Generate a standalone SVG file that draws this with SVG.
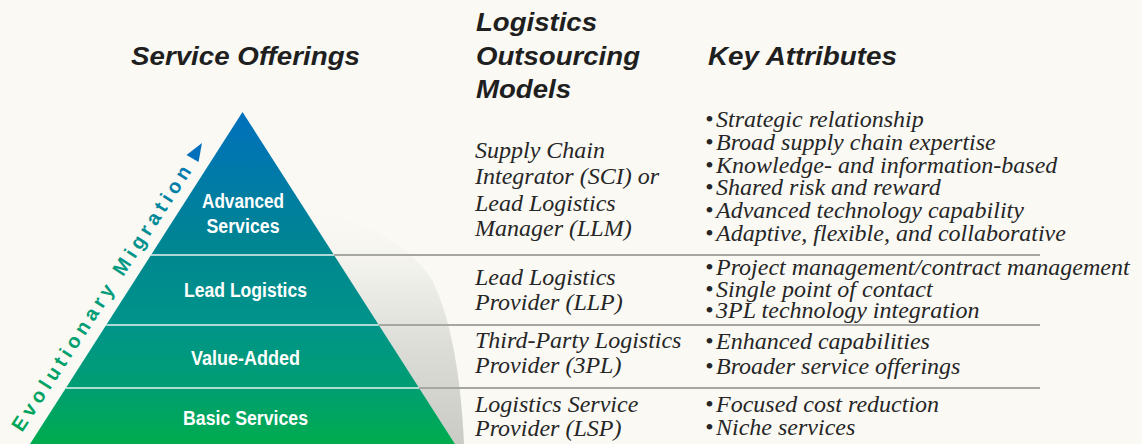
<svg xmlns="http://www.w3.org/2000/svg" width="1142" height="444" viewBox="0 0 1142 444">
<defs>
<linearGradient id="pyr" gradientUnits="userSpaceOnUse" x1="0" y1="112" x2="0" y2="444">
<stop offset="0" stop-color="#0070BC"/>
<stop offset="0.43" stop-color="#00878F"/>
<stop offset="0.64" stop-color="#00948A"/>
<stop offset="0.83" stop-color="#009E72"/>
<stop offset="1" stop-color="#00AC4E"/>
</linearGradient>
<linearGradient id="evo" gradientUnits="userSpaceOnUse" x1="0" y1="0" x2="312" y2="0">
<stop offset="0" stop-color="#00A55A"/>
<stop offset="0.6" stop-color="#009A80"/>
<stop offset="1" stop-color="#0079B0"/>
</linearGradient>
<linearGradient id="shadow" gradientUnits="userSpaceOnUse" x1="0" y1="200" x2="0" y2="444">
<stop offset="0" stop-color="#FAF9F4" stop-opacity="0"/>
<stop offset="0.35" stop-color="#EDEDE8"/>
<stop offset="0.6" stop-color="#DDDDD8"/>
<stop offset="1" stop-color="#CBCBC6"/>
</linearGradient>
<style>
.hdr{font-family:"Liberation Sans",Arial,sans-serif;font-weight:bold;font-style:italic;font-size:26px;fill:#1F1F1F}
.band{font-family:"Liberation Sans",Arial,sans-serif;font-weight:bold;font-size:20px;fill:#FFFFFF;text-anchor:middle}
.ser{font-family:"Liberation Serif","Times New Roman",serif;font-style:italic;font-size:24px;fill:#262626}
.sep{stroke:#A6A6A2;stroke-width:2;fill:none}
.wsep{stroke:#E6F2EE;stroke-width:1.5;fill:none}
</style>
</defs>
<rect x="0" y="0" width="1142" height="444" fill="#FAF9F4"/>

<!-- shadow -->
<path d="M300,205 C370,225 410,245 432,280 C452,320 461,380 464,444 L455,444 Z" fill="url(#shadow)"/>

<!-- headers -->
<g id="headers">
<text class="hdr" x="131" y="65" textLength="229" lengthAdjust="spacingAndGlyphs">Service Offerings</text>
<text class="hdr" x="476" y="31" textLength="121" lengthAdjust="spacingAndGlyphs">Logistics</text>
<text class="hdr" x="476" y="65" textLength="164" lengthAdjust="spacingAndGlyphs">Outsourcing</text>
<text class="hdr" x="476" y="98" textLength="95" lengthAdjust="spacingAndGlyphs">Models</text>
<text class="hdr" x="708" y="65" textLength="189" lengthAdjust="spacingAndGlyphs">Key Attributes</text>
</g>

<!-- pyramid bands -->
<g id="band-advanced">
<polygon points="242.5,112 334,255 151,255" fill="url(#pyr)"/>
<text class="band" x="243" y="208" textLength="82" lengthAdjust="spacingAndGlyphs">Advanced</text>
<text class="band" x="243" y="233" textLength="73" lengthAdjust="spacingAndGlyphs">Services</text>
</g>
<g id="band-lead">
<polygon points="151,255 334,255 378.8,325 106.2,325" fill="url(#pyr)"/>
<text class="band" x="245.5" y="297" textLength="123" lengthAdjust="spacingAndGlyphs">Lead Logistics</text>
</g>
<g id="band-value">
<polygon points="106.2,325 378.8,325 419.1,388 65.9,388" fill="url(#pyr)"/>
<text class="band" x="245.5" y="365" textLength="109" lengthAdjust="spacingAndGlyphs">Value-Added</text>
</g>
<g id="band-basic">
<polygon points="65.9,388 419.1,388 455,444 30,444" fill="url(#pyr)"/>
<text class="band" x="245.5" y="425" textLength="125" lengthAdjust="spacingAndGlyphs">Basic Services</text>
</g>

<!-- evolutionary migration label -->
<g id="evolution">
<text transform="translate(22,433) rotate(-57)" font-family="'Liberation Sans',Arial,sans-serif" font-weight="bold" font-size="20" fill="url(#evo)" textLength="312" lengthAdjust="spacing">Evolutionary Migration</text>
<polygon points="202,143 186.5,155 198.5,162" fill="#0070BC"/>
</g>

<!-- separators -->
<g id="connectors">
<line class="wsep" x1="151" y1="255" x2="334" y2="255"/>
<line class="wsep" x1="106.2" y1="325" x2="378.8" y2="325"/>
<line class="wsep" x1="65.9" y1="388" x2="419.1" y2="388"/>
<line class="sep" x1="334" y1="255" x2="1040" y2="255"/>
<line class="sep" x1="379" y1="325" x2="1040" y2="325"/>
<line class="sep" x1="419" y1="388" x2="1040" y2="388"/>
</g>

<!-- models -->
<g id="model-sci">
<text class="ser" x="475" y="158">Supply Chain</text>
<text class="ser" x="475" y="184">Integrator (SCI) or</text>
<text class="ser" x="475" y="211">Lead Logistics</text>
<text class="ser" x="475" y="236">Manager (LLM)</text>
</g>
<g id="model-llp">
<text class="ser" x="475" y="285">Lead Logistics</text>
<text class="ser" x="475" y="310">Provider (LLP)</text>
</g>
<g id="model-3pl">
<text class="ser" x="475" y="348">Third-Party Logistics</text>
<text class="ser" x="475" y="373">Provider (3PL)</text>
</g>
<g id="model-lsp">
<text class="ser" x="475" y="412">Logistics Service</text>
<text class="ser" x="475" y="436">Provider (LSP)</text>
</g>

<!-- attributes -->
<g id="attr-sci">
<text class="ser" x="705" y="127">•<tspan x="716">Strategic relationship</tspan></text>
<text class="ser" x="705" y="150">•<tspan x="716">Broad supply chain expertise</tspan></text>
<text class="ser" x="705" y="173">•<tspan x="716">Knowledge- and information-based</tspan></text>
<text class="ser" x="705" y="195">•<tspan x="716">Shared risk and reward</tspan></text>
<text class="ser" x="705" y="218">•<tspan x="716">Advanced technology capability</tspan></text>
<text class="ser" x="705" y="241">•<tspan x="716">Adaptive, flexible, and collaborative</tspan></text>
</g>
<g id="attr-llp">
<text class="ser" x="705" y="275">•<tspan x="716">Project management/contract management</tspan></text>
<text class="ser" x="705" y="297">•<tspan x="716">Single point of contact</tspan></text>
<text class="ser" x="705" y="318">•<tspan x="716">3PL technology integration</tspan></text>
</g>
<g id="attr-3pl">
<text class="ser" x="705" y="349">•<tspan x="716">Enhanced capabilities</tspan></text>
<text class="ser" x="705" y="374">•<tspan x="716">Broader service offerings</tspan></text>
</g>
<g id="attr-lsp">
<text class="ser" x="705" y="412">•<tspan x="716">Focused cost reduction</tspan></text>
<text class="ser" x="705" y="435">•<tspan x="716">Niche services</tspan></text>
</g>
</svg>
